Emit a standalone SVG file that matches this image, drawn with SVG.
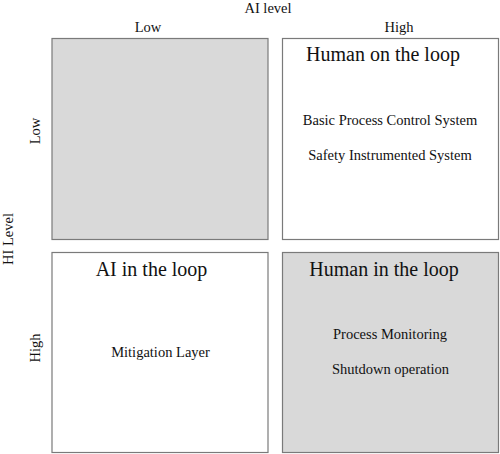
<svg xmlns="http://www.w3.org/2000/svg" width="500" height="454" viewBox="0 0 500 454">
<style>
text{font-family:"Liberation Serif","Times New Roman",serif;fill:#111;text-anchor:middle}
.s{font-size:14.5px}
.t{font-size:20px}
.box{stroke:#7a7a7a;stroke-width:1.2}
.g{fill:#d9d9d9}
.w{fill:#fff}
</style>
<rect width="500" height="454" fill="#fff"/>
<g id="axes">
<text class="s" x="268" y="13">AI level</text>
<text class="s" x="148" y="32">Low</text>
<text class="s" x="399" y="32">High</text>
<text class="s" transform="translate(40,131) rotate(-90)">Low</text>
<text class="s" transform="translate(13,239) rotate(-90)">HI Level</text>
<text class="s" transform="translate(40,348) rotate(-90)">High</text>
</g>
<g id="q-low-low"><rect class="box g" x="52" y="38.5" width="216" height="201"/></g>
<g id="q-human-on">
<rect class="box w" x="282.5" y="38.5" width="216" height="201"/>
<text class="t" x="383" y="61">Human on the loop</text>
<text class="s" x="390" y="125">Basic Process Control System</text>
<text class="s" x="390" y="160">Safety Instrumented System</text>
</g>
<g id="q-ai-in">
<rect class="box w" x="52" y="252.5" width="216" height="200"/>
<text class="t" x="151.5" y="276">AI in the loop</text>
<text class="s" x="160.5" y="357">Mitigation Layer</text>
</g>
<g id="q-human-in">
<rect class="box g" x="282.5" y="252.5" width="216" height="200"/>
<text class="t" x="384" y="276">Human in the loop</text>
<text class="s" x="390" y="339">Process Monitoring</text>
<text class="s" x="390.5" y="374">Shutdown operation</text>
</g>
<g id="connectors"/>
</svg>
